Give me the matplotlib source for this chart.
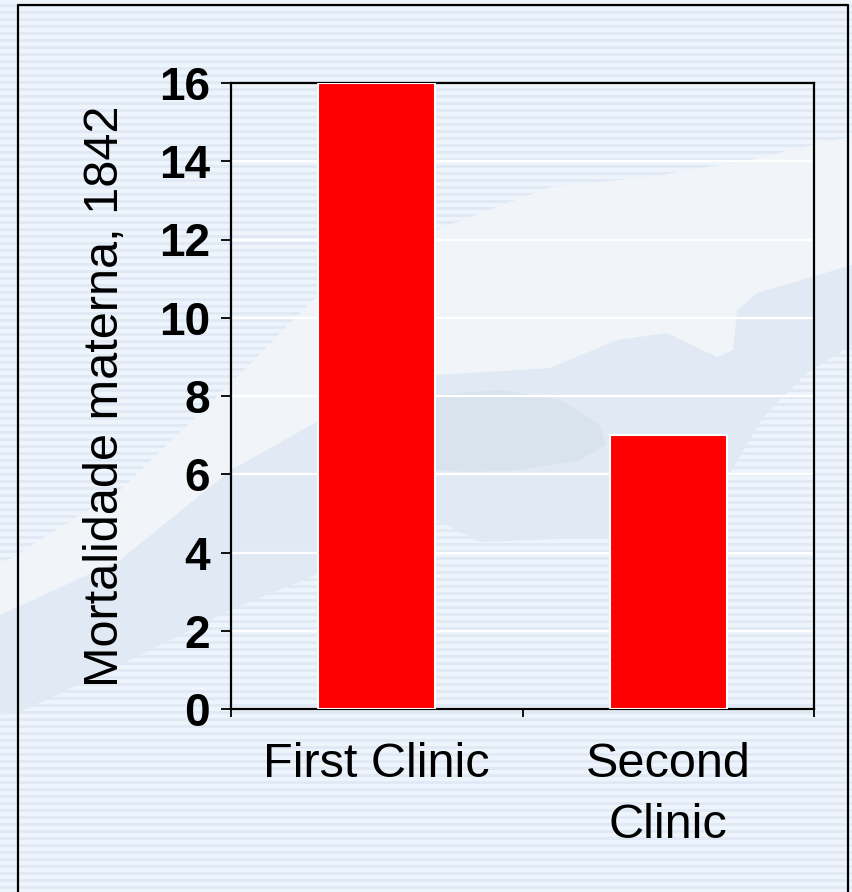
import matplotlib.pyplot as plt
import numpy as np
from matplotlib.patches import Polygon

clinics = ['First Clinic', 'Second\nClinic']
mortality = [16, 7]
y_ticks = [0, 2, 4, 6, 8, 10, 12, 14, 16]

W, H = 852, 892
plt.rcParams['font.family'] = ['Liberation Sans', 'DejaVu Sans']

fig = plt.figure(figsize=(W / 100, H / 100), dpi=100)

# backdrop: pale blue horizontal stripes with a diagonal swoosh
bg = fig.add_axes([0, 0, 1, 1], zorder=-1)
bg.set_xlim(0, W)
bg.set_ylim(H, 0)
bg.axis('off')

light = np.array([238, 244, 251]) / 255
dark = np.array([224, 233, 244]) / 255
rows = np.arange(H) % 7
stripes = np.where((rows >= 4)[:, None], dark, light)[:, None, :]
stripes = np.repeat(stripes, 4, axis=1)
bg.imshow(stripes, extent=(0, W, H, 0), aspect='auto', interpolation='nearest')

band = [(0, 565), (120, 490), (231, 383), (320, 293), (436, 230), (550, 187),
        (650, 177), (750, 160), (820, 143), (852, 137),
        (852, 345), (807, 373), (763, 417), (730, 473), (640, 530), (610, 537),
        (480, 542), (436, 520), (320, 573), (231, 610), (120, 665), (20, 712),
        (0, 715)]
bg.add_patch(Polygon(band, closed=True, fc='#e1eaf4', ec='none'))

swoosh = [(0, 565), (120, 490), (231, 383), (320, 293), (436, 230), (550, 187),
          (650, 177), (750, 160), (820, 143), (852, 137),
          (852, 265), (757, 293), (737, 310), (733, 350), (717, 357), (667, 333),
          (617, 340), (550, 368), (436, 375), (320, 420), (231, 470), (120, 560),
          (0, 615)]
bg.add_patch(Polygon(swoosh, closed=True, fc='#f1f5fa', ec='none'))

blob = [(436, 395), (500, 390), (560, 400), (600, 425), (606, 445), (580, 460),
        (520, 470), (470, 472), (436, 470)]
bg.add_patch(Polygon(blob, closed=True, fc='#d9e3ed', ec='none'))

# frame round the slide
bg.plot([18, 18, 848, 848], [H, 5, 5, H], color='black', lw=1.6)

ax = fig.add_axes([231 / W, 1 - 709 / H, (814 - 231) / W, (709 - 83) / H])
ax.patch.set_alpha(0)

x = np.arange(len(clinics))
ax.bar(x, mortality, width=0.4, color='#ff0000', edgecolor='white', linewidth=1.5, zorder=3)

ax.set_xlim(-0.5, len(clinics) - 0.5)
ax.set_ylim(0, 16)
ax.set_yticks(y_ticks)
ax.set_yticklabels([str(v) for v in y_ticks], fontsize=33, fontweight='bold')
ax.tick_params(axis='y', direction='out', length=7, width=1.3, pad=8)

ax.set_xticks(np.arange(len(clinics) + 1) - 0.5)
ax.set_xticklabels([])
ax.set_xticks(x, minor=True)
ax.set_xticklabels(clinics, minor=True, fontsize=35)
for lbl in ax.get_xticklabels(minor=True):
    lbl.set_linespacing(1.45)
ax.tick_params(axis='x', which='major', direction='out', length=6, width=1.3)
ax.tick_params(axis='x', which='minor', length=0, pad=24)

ax.grid(axis='y', color='white', linewidth=1.6)
ax.set_axisbelow(True)
for s in ax.spines.values():
    s.set_linewidth(1.6)
    s.set_color('black')

ax.set_ylabel('Mortalidade materna, 1842', fontsize=35)
ax.yaxis.set_label_coords(-0.177, 0.5)

fig.savefig('out.png', dpi=100)
